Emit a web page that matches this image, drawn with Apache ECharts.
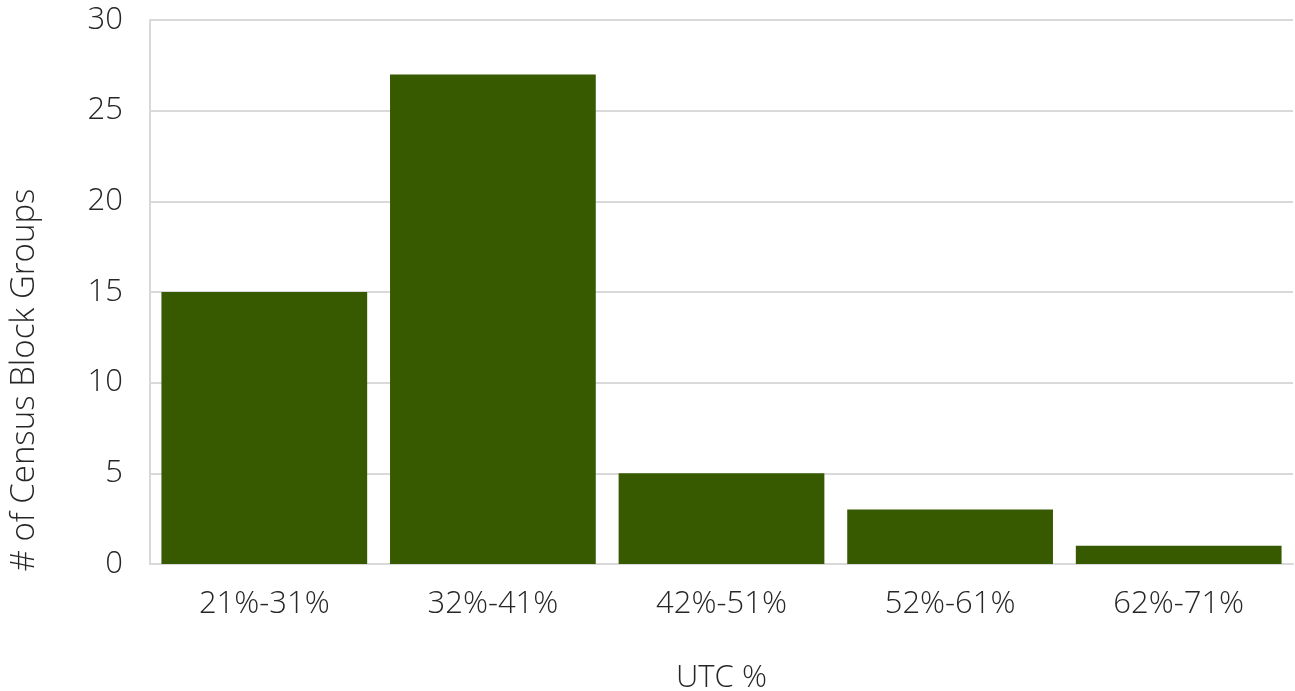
<!DOCTYPE html>
<html>
<head>
<meta charset="utf-8">
<script src="https://cdn.jsdelivr.net/npm/echarts@6/dist/echarts.min.js"></script>
<style>
  html, body { margin: 0; padding: 0; background: #ffffff; }
  #chart { width: 1295px; height: 691px; }
</style>
</head>
<body>
<div id="chart"></div>
<script>
// UTC % bins and number of census block groups in each
const categories = ['21%-31%', '32%-41%', '42%-51%', '52%-61%', '62%-71%'];
const blockGroups = [15, 27, 5, 3, 1];
const yTitle = '# of Census Block Groups';
const xTitle = 'UTC %';

const FONT = '"Open Sans", Lato, sans-serif';
const TEXT = '#262626';

const chart = echarts.init(document.getElementById('chart'));
chart.setOption({
  animation: false,
  backgroundColor: '#ffffff',
  grid: { left: 150, right: 2, top: 20, bottom: 127, containLabel: false, outerBoundsMode: 'none' },
  // vertical axis title, set a little below the plot's middle
  graphic: [{
    type: 'text',
    x: 25,
    y: 380,
    rotation: Math.PI / 2,
    style: {
      text: yTitle,
      fontFamily: FONT,
      fontSize: 33,
      fontWeight: 300,
      fill: TEXT,
      align: 'center',
      verticalAlign: 'middle'
    }
  }],
  xAxis: {
    type: 'category',
    data: categories,
    name: xTitle,
    nameLocation: 'middle',
    nameGap: 99,
    nameTextStyle: { fontFamily: FONT, fontSize: 31, fontWeight: 300, color: TEXT },
    axisLine: { show: true, lineStyle: { color: '#d9d9d9', width: 2 } },
    axisTick: { show: false },
    axisLabel: { fontFamily: FONT, fontSize: 31, fontWeight: 300, color: TEXT, margin: 25 }
  },
  yAxis: {
    type: 'value',
    min: 0,
    max: 30,
    interval: 5,
    axisLine: { show: true, lineStyle: { color: '#d9d9d9', width: 2 } },
    axisTick: { show: false },
    axisLabel: { fontFamily: FONT, fontSize: 31, fontWeight: 300, color: TEXT, margin: 27 },
    splitLine: { show: true, lineStyle: { color: '#d9d9d9', width: 2 } }
  },
  series: [{
    type: 'bar',
    data: blockGroups,
    barCategoryGap: '10%',
    itemStyle: { color: '#375a00' }
  }]
});
</script>
</body>
</html>
